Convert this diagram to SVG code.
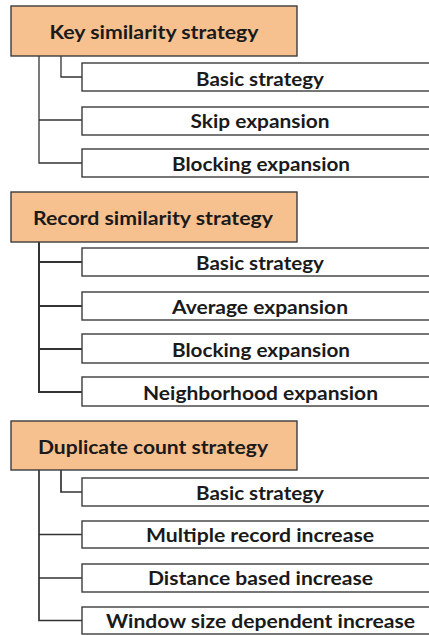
<svg xmlns="http://www.w3.org/2000/svg" width="429" height="635" viewBox="0 0 429 635">
<style>
.bg{fill:#ffffff}
.hdr rect{fill:#F7C08F;stroke:#3c3c3c;stroke-width:1.4}
.ch rect{fill:#ffffff;stroke:#3c3c3c;stroke-width:1.4}
text{font-family:Lato,"Open Sans","Liberation Sans",sans-serif;font-weight:bold;font-size:19px;fill:#1a1a1a;text-anchor:middle}
.con path{fill:none;stroke:#333333;stroke-width:1.3}
.con .thick{stroke-width:2}
.con .mid{stroke-width:1.7}
</style>
<rect class="bg" x="0" y="0" width="429" height="635"/>
<g id="connectors" class="con">
<path d="M39 56 V163 H82 M61 56 V77 H82 M39 120 H82"/>
<path class="thick" d="M39 242 V392 H82 M39 262 H82 M39 306 H82 M39 349 H82"/>
<path class="mid" d="M39 470 V620.5 H82 M61 470 V492 H82 M39 534.5 H82 M39 578 H82"/>
</g>
<g id="key" class="hdr"><rect x="11" y="6" width="286" height="50"/><text x="154" y="39" textLength="209" lengthAdjust="spacingAndGlyphs">Key similarity strategy</text></g>
<g id="key-basic" class="ch"><rect x="82" y="63" width="352" height="28"/><text x="260" y="86" textLength="128" lengthAdjust="spacingAndGlyphs">Basic strategy</text></g>
<g id="key-skip" class="ch"><rect x="82" y="107" width="352" height="28"/><text x="260" y="128" textLength="139" lengthAdjust="spacingAndGlyphs">Skip expansion</text></g>
<g id="key-blocking" class="ch"><rect x="82" y="149" width="352" height="28"/><text x="261" y="171" textLength="178" lengthAdjust="spacingAndGlyphs">Blocking expansion</text></g>
<g id="record" class="hdr"><rect x="11" y="192" width="286" height="50"/><text x="153" y="225" textLength="240" lengthAdjust="spacingAndGlyphs">Record similarity strategy</text></g>
<g id="record-basic" class="ch"><rect x="82" y="248" width="352" height="28"/><text x="260" y="270" textLength="128" lengthAdjust="spacingAndGlyphs">Basic strategy</text></g>
<g id="record-average" class="ch"><rect x="82" y="292" width="352" height="28"/><text x="260" y="314" textLength="176" lengthAdjust="spacingAndGlyphs">Average expansion</text></g>
<g id="record-blocking" class="ch"><rect x="82" y="334" width="352" height="29"/><text x="261" y="357" textLength="178" lengthAdjust="spacingAndGlyphs">Blocking expansion</text></g>
<g id="record-neighborhood" class="ch"><rect x="82" y="377" width="352" height="29"/><text x="260.5" y="400" textLength="235" lengthAdjust="spacingAndGlyphs">Neighborhood expansion</text></g>
<g id="duplicate" class="hdr"><rect x="11" y="421" width="286" height="49"/><text x="153" y="454" textLength="230" lengthAdjust="spacingAndGlyphs">Duplicate count strategy</text></g>
<g id="dup-basic" class="ch"><rect x="82" y="478" width="352" height="28"/><text x="260" y="500" textLength="128" lengthAdjust="spacingAndGlyphs">Basic strategy</text></g>
<g id="dup-multiple" class="ch"><rect x="82" y="521" width="352" height="27"/><text x="260" y="542" textLength="228" lengthAdjust="spacingAndGlyphs">Multiple record increase</text></g>
<g id="dup-distance" class="ch"><rect x="82" y="564" width="352" height="28"/><text x="260.5" y="585" textLength="225" lengthAdjust="spacingAndGlyphs">Distance based increase</text></g>
<g id="dup-window" class="ch"><rect x="82" y="607" width="352" height="27"/><text x="260.5" y="628" textLength="309" lengthAdjust="spacingAndGlyphs">Window size dependent increase</text></g>
</svg>
